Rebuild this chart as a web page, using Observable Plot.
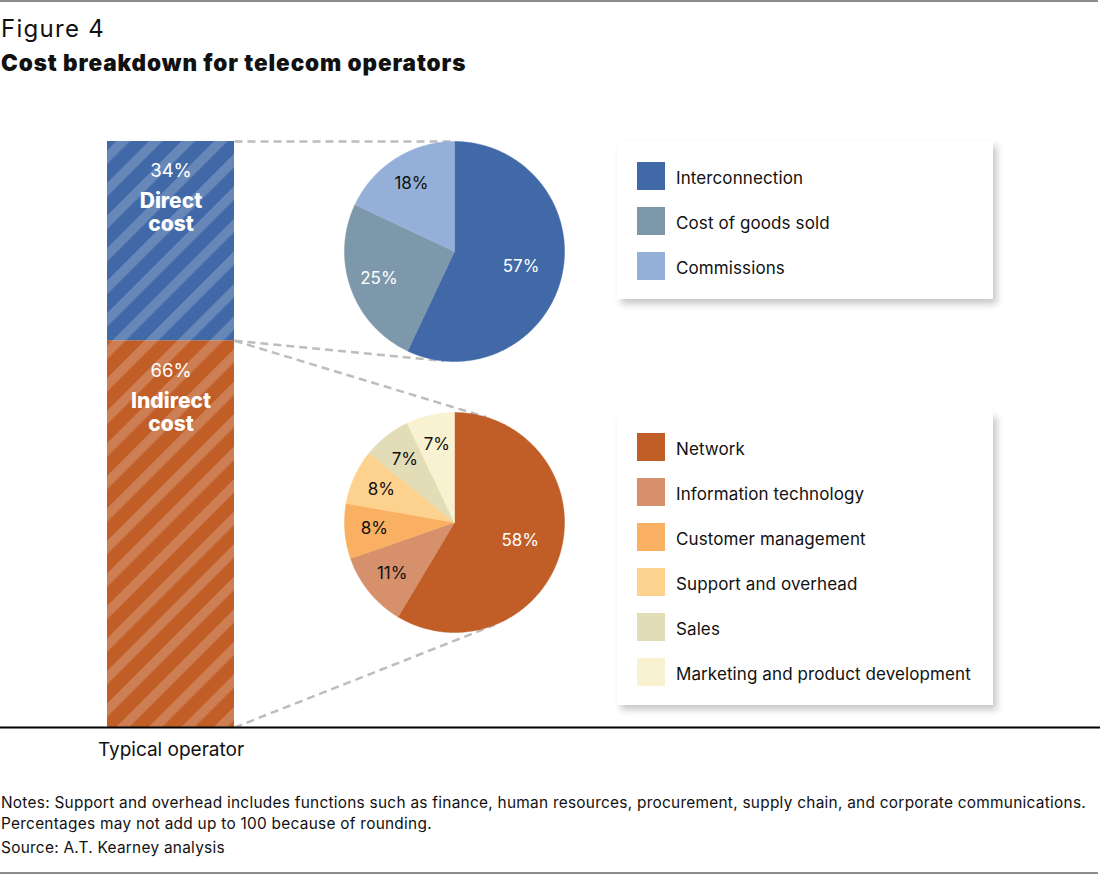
<!DOCTYPE html>
<html>
<head>
<meta charset="utf-8">
<script src="https://cdn.jsdelivr.net/npm/d3@7"></script>
<script src="https://cdn.jsdelivr.net/npm/@observablehq/plot@0.6"></script>
<style>
  body { margin: 0; background: #fff; font-family: Inter, Roboto, "Noto Sans", sans-serif; color: #111; }
  #page { position: relative; width: 1100px; height: 876px; overflow: hidden; background: #fff; }
  .rule { position: absolute; left: 0; width: 1098px; height: 2px; background: #8c8c8c; }
  #fig { position: absolute; left: 1px; top: 17px; font-size: 24px; line-height: 24px; font-weight: 400; letter-spacing: 1.3px; }
  #title { position: absolute; left: 1px; top: 52px; font-size: 22.5px; line-height: 22px; font-weight: 900; letter-spacing: 0.9px; }
  #chart { position: absolute; left: 0; top: 95px; }
  .legend { position: absolute; left: 617px; width: 376px; background: #fff; box-shadow: 4px 5px 7px rgba(0,0,0,0.22); box-sizing: border-box; padding: 21px 0 19px 20px; }
  .row { display: flex; align-items: center; height: 28px; margin-bottom: 17px; font-size: 17px; letter-spacing: 0.1px; }
  .row span { position: relative; top: 2px; }
  .row:last-child { margin-bottom: 0; }
  .sw { width: 28px; height: 28px; margin-right: 11px; flex: none; }
  .note { position: absolute; left: 1px; font-size: 15.4px; line-height: 21px; white-space: nowrap; letter-spacing: 0.27px; }
</style>
</head>
<body>
<div id="page">
  <div class="rule" style="top:0"></div>
  <div id="fig">Figure 4</div>
  <div id="title">Cost breakdown for telecom operators</div>
  <div id="chart"></div>
  <div class="legend" id="leg1" style="top:141px"></div>
  <div class="legend" id="leg2" style="top:412px"></div>
  <div class="note" style="top:792px">Notes: Support and overhead includes functions such as finance, human resources, procurement, supply chain, and corporate communications.<br>Percentages may not add up to 100 because of rounding.</div>
  <div class="note" style="top:837px">Source: A.T. Kearney analysis</div>
  <div class="rule" style="top:872px"></div>
</div>
<script>
// ---------------- data ----------------
const barCategory = "Typical operator";
const costTypes = ["Direct cost", "Indirect cost"];
const costShares = [34, 66];
const directItems = ["Interconnection", "Cost of goods sold", "Commissions"];
const directShares = [57, 25, 18];
const indirectItems = ["Network", "Information technology", "Customer management", "Support and overhead", "Sales", "Marketing and product development"];
const indirectShares = [58, 11, 8, 8, 7, 7];

// ---------------- styles ----------------
const costColors = ["#4169a8", "#c15e28"];
const directColors = ["#4169a8", "#7d98aa", "#94b0d8"];
const indirectColors = ["#c15e28", "#d6906b", "#f9b062", "#fdd18e", "#e2ddb7", "#f8f2d1"];

// ---------------- layout (pixels) ----------------
const W = 1100, H = 680;
const axisPx = 632, barTopPx = 46;              // y pixel of 0% and 100%
const k = (axisPx - barTopPx) / 100;             // pixels per unit
const ux = px => px / k;
const uy = px => (axisPx - px) / k;
const bar = { x1: ux(107), x2: ux(234) };
const pieR = ux(110);
const pieTop = { cx: ux(454), cy: uy(156) };
const pieBottom = { cx: ux(454), cy: uy(427) };

// ---------------- derived rows ----------------
const costRows = costTypes.map((type, i) => ({ type, share: costShares[i], label: `${costShares[i]}%` })).reverse();

function pieRows(items, shares, c) {
  const arcs = d3.pie().sort(null).value(d => d.share)(items.map((name, i) => ({ name, share: shares[i] })));
  const poly = [], labels = [];
  for (const a of arcs) {
    const n = Math.max(4, Math.ceil((a.endAngle - a.startAngle) / 0.01));
    poly.push({ name: a.data.name, x: c.cx, y: c.cy });
    for (let j = 0; j <= n; j++) {
      const t = a.startAngle + (a.endAngle - a.startAngle) * j / n;
      poly.push({ name: a.data.name, x: c.cx + pieR * Math.sin(t), y: c.cy + pieR * Math.cos(t) });
    }
    poly.push({ name: a.data.name, x: c.cx, y: c.cy });
    const m = (a.startAngle + a.endAngle) / 2;
    const lr = (a.data.share >= 40 ? 0.62 : 0.73) * pieR;
    labels.push({ name: a.data.name, text: `${a.data.share}%`, x: c.cx + lr * Math.sin(m), y: c.cy + lr * Math.cos(m) });
  }
  return { poly, labels };
}
const topPie = pieRows(directItems, directShares, pieTop);
const botPie = pieRows(indirectItems, indirectShares, pieBottom);

const allNames = [...costTypes, ...directItems, ...indirectItems];
const allColors = [...costColors, ...directColors, ...indirectColors];
const colorOf = name => allColors[allNames.indexOf(name)];
const textColor = name => (d3.lab(colorOf(name)).l > 62 ? "#111" : "#fff");

// tangent lines from bar corners to pies
function tangent(px, py, c, upper) {
  const vx = px - c.cx, vy = py - c.cy;
  const d = Math.hypot(vx, vy), phi = Math.atan2(vy, vx), al = Math.acos(pieR / d);
  const t1 = { x: c.cx + pieR * Math.cos(phi + al), y: c.cy + pieR * Math.sin(phi + al) };
  const t2 = { x: c.cx + pieR * Math.cos(phi - al), y: c.cy + pieR * Math.sin(phi - al) };
  const t = upper ? (t1.y > t2.y ? t1 : t2) : (t1.y < t2.y ? t1 : t2);
  return { x1: px, y1: py, x2: t.x, y2: t.y };
}
const total = d3.sum(costShares);
const boundary = costShares[1];
const connectors = [
  tangent(bar.x2, total, pieTop, true),
  tangent(bar.x2, boundary, pieTop, false),
  tangent(bar.x2, boundary, pieBottom, true),
  tangent(bar.x2, 0, pieBottom, false)
];

const barCx = (bar.x1 + bar.x2) / 2;

const svg = Plot.plot({
  width: W, height: H,
  margin: 0,
  x: { domain: [0, ux(W)], range: [0, W], axis: null },
  y: { domain: [0, 100], range: [axisPx, barTopPx], axis: null },
  color: { domain: allNames, range: allColors },
  style: { fontFamily: "Inter, Roboto, 'Noto Sans', sans-serif", background: "transparent" },
  marks: [
    Plot.link(connectors, { x1: "x1", y1: "y1", x2: "x2", y2: "y2", stroke: "#bdbdbd", strokeWidth: 2.5, strokeDasharray: "8,5" }),
    Plot.rectY(costRows, Plot.stackY({ x1: bar.x1, x2: bar.x2, y: "share", fill: "type" })),
    Plot.rectY(costRows, Plot.stackY({ x1: bar.x1, x2: bar.x2, y: "share", fill: "url(#hatch)" })),
    Plot.text(costRows, Plot.stackY2({ x: barCx, y: "share", text: "label", fill: "white", fontSize: 18.5, dy: 30 })),
    Plot.text(costRows, Plot.stackY2({ x: barCx, y: "share", text: d => d.type.replace(" ", "\n"), fill: "white", fontSize: 21, fontWeight: 800, lineHeight: 1.1, dy: 71, style: "letter-spacing:0.6px" })),
    Plot.line(topPie.poly, { x: "x", y: "y", z: "name", fill: "name", stroke: "name", strokeWidth: 0.5 }),
    Plot.line(botPie.poly, { x: "x", y: "y", z: "name", fill: "name", stroke: "name", strokeWidth: 0.5 }),
    Plot.text([...topPie.labels, ...botPie.labels], { x: "x", y: "y", text: "text", fill: d => textColor(d.name), fontSize: 17 }),
    Plot.ruleY([0], { stroke: "#000", strokeWidth: 2 }),
    Plot.text([barCategory], { x: barCx, y: 0, text: d => d, fill: "#111", fontSize: 19, dy: 22 })
  ]
});

d3.select(svg).insert("defs", ":first-child").html(
  `<pattern id="hatch" width="23" height="23" patternUnits="userSpaceOnUse" patternTransform="rotate(45)">
     <rect x="0" y="0" width="9.5" height="23" fill="#fff" fill-opacity="0.2"></rect>
   </pattern>`);
document.getElementById("chart").appendChild(svg);

// ---------------- legends ----------------
function legend(id, items) {
  const el = document.getElementById(id);
  for (const name of items) {
    const row = document.createElement("div");
    row.className = "row";
    const sw = document.createElement("div");
    sw.className = "sw";
    sw.style.background = colorOf(name);
    const lab = document.createElement("span");
    lab.textContent = name;
    row.appendChild(sw); row.appendChild(lab);
    el.appendChild(row);
  }
}
legend("leg1", directItems);
legend("leg2", indirectItems);
</script>
</body>
</html>
